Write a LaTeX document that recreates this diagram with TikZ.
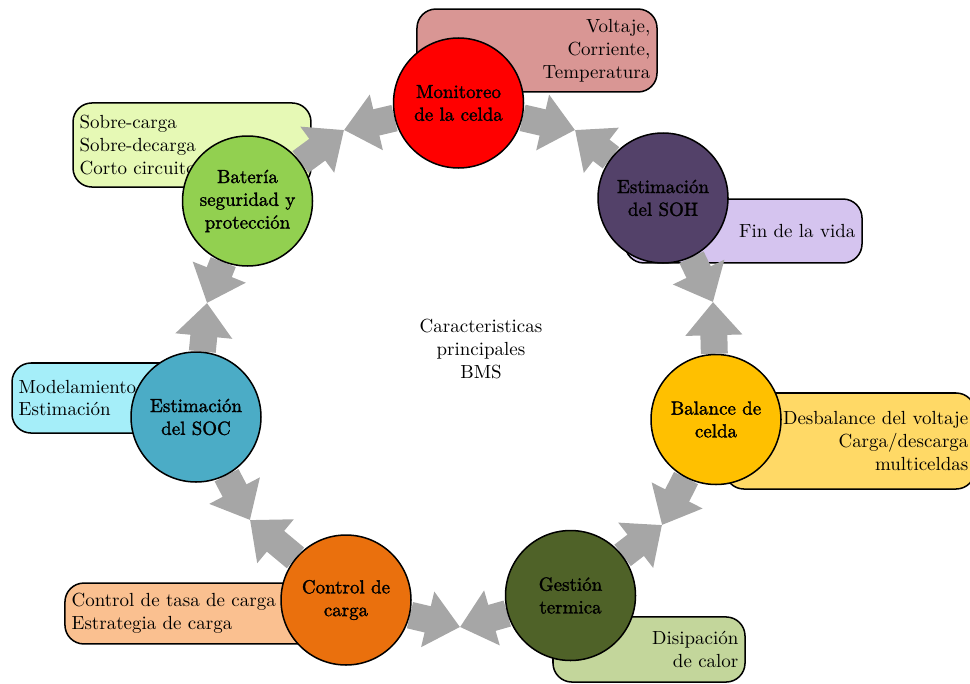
\documentclass[tikz,border=0pt]{standalone}
\usepackage{fontspec}
\usetikzlibrary{arrows.meta}
% slightly heavier roman for the bubble labels
\newfontfamily\hubfont{lmroman10-regular}[Extension=.otf, FakeBold=1.6]

% fills of the seven feature bubbles
\definecolor{cMon}{HTML}{FF0000}
\definecolor{cSoh}{HTML}{534169}
\definecolor{cBal}{HTML}{FFC000}
\definecolor{cGes}{HTML}{4F6228}
\definecolor{cCon}{HTML}{EA700D}
\definecolor{cSoc}{HTML}{4BACC6}
\definecolor{cBat}{HTML}{92D050}
% fills of the description boxes
\definecolor{dMon}{HTML}{D99694}
\definecolor{dSoh}{HTML}{D5C4EF}
\definecolor{dBal}{HTML}{FFD966}
\definecolor{dGes}{HTML}{C3D69B}
\definecolor{dCon}{HTML}{FAC090}
\definecolor{dSoc}{HTML}{A5EEF9}
\definecolor{dBat}{HTML}{E6F9B5}
\definecolor{linkgray}{HTML}{A6A6A6}

\pgfdeclarelayer{boxes}
\pgfdeclarelayer{links}
\pgfsetlayers{boxes,links,main}

\begin{document}
\begin{tikzpicture}[x=0.527pt,y=-0.527pt,
  hub/.style={circle, draw=black, line width=0.8pt, minimum size=68.5pt,
    inner sep=0pt, align=center, font=\hubfont},
  infobox/.style={draw=black, line width=0.8pt, rounded corners=10pt,
    inner xsep=3.5pt, inner ysep=0pt},
  flow/.style={draw=linkgray, line width=14.2pt,
    -{Triangle[length=17.5pt,width=29pt]}},
]
\useasboundingbox (0,0) rectangle (970,683);

% feature bubbles
\node[hub, fill=cMon] (mon) at (458.5,103) {Monitoreo\\de la celda};
\node[hub, fill=cSoh] (soh) at (663,198) {Estimación\\del SOH};
\node[hub, fill=cBal] (bal) at (716,419.5) {Balance de\\celda};
\node[hub, fill=cGes] (ges) at (570.5,595.5) {Gestión\\termica};
\node[hub, fill=cCon] (con) at (346,600) {Control de\\carga};
\node[hub, fill=cSoc] (soc) at (196,417) {Estimación\\del SOC};
\node[hub, fill=cBat] (bat) at (247.5,201) {Batería\\seguridad y\\protección};

\node[align=center] (title) at (481,349) {Caracteristicas\\principales\\BMS};

% meeting points of the arrow pairs
\coordinate (m12) at (575,130);
\coordinate (m23) at (713,302);
\coordinate (m34) at (662,525);
\coordinate (m45) at (460,627);
\coordinate (m56) at (250,520);
\coordinate (m67) at (207,303);
\coordinate (m71) at (344,130);

% description boxes behind the bubbles
\begin{pgfonlayer}{boxes}
\node[infobox, fill=dMon, text width=119.5pt, minimum height=43.7pt, align=right]
  (tmon) at (537,50.5) {Voltaje,\\Corriente,\\Temperatura};
\node[infobox, fill=dSoh, text width=117.9pt, minimum height=33.7pt, align=right]
  (tsoh) at (743.5,231) {Fin de la vida};
\node[infobox, fill=dBal, text width=124.8pt, minimum height=50.6pt, align=right]
  (tbal) at (850,441) {Desbalance del voltaje\\Carga/descarga\\multiceldas};
\node[infobox, fill=dGes, text width=94.2pt, minimum height=34.3pt, align=right]
  (tges) at (649,649.5) {Disipación\\de calor};
\node[infobox, fill=dCon, text width=132.7pt, minimum height=32.1pt, align=left]
  (tcon) at (197.5,613.5) {Control de tasa de carga\\Estrategia de carga};
\node[infobox, fill=dSoc, text width=102.6pt, minimum height=36.9pt, align=left]
  (tsoc) at (116,398) {Modelamiento\\Estimación};
\node[infobox, fill=dBat, text width=118.4pt, minimum height=44.3pt, align=left]
  (tbat) at (192,145) {Sobre-carga\\Sobre-decarga\\Corto circuito};
\end{pgfonlayer}

% paired arrows between neighbouring bubbles
\begin{pgfonlayer}{links}
\draw[flow] (mon) -- (m12);
\draw[flow] (soh) -- (m12);
\draw[flow] (soh) -- (m23);
\draw[flow] (bal) -- (m23);
\draw[flow] (bal) -- (m34);
\draw[flow] (ges) -- (m34);
\draw[flow] (ges) -- (m45);
\draw[flow] (con) -- (m45);
\draw[flow] (con) -- (m56);
\draw[flow] (soc) -- (m56);
\draw[flow] (soc) -- (m67);
\draw[flow] (bat) -- (m67);
\draw[flow] (bat) -- (m71);
\draw[flow] (mon) -- (m71);
\end{pgfonlayer}
\end{tikzpicture}
\end{document}
